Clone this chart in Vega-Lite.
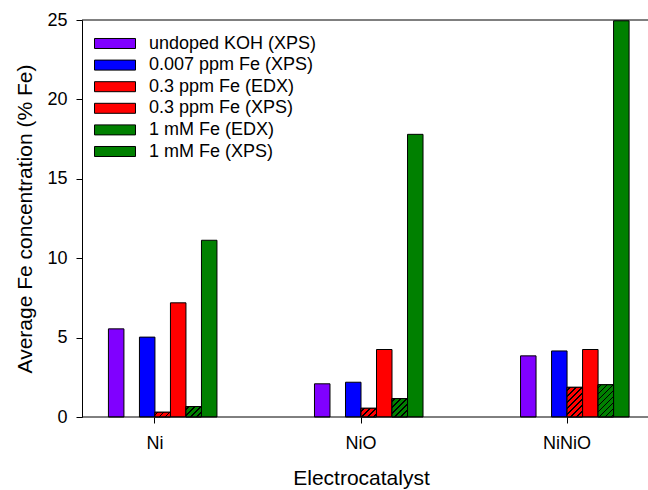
{
  "$schema": "https://vega.github.io/schema/vega-lite/v6.json",
  "autosize": {"type": "none"},
  "padding": {"left": 82, "top": 20, "right": 0, "bottom": 73},
  "width": 566,
  "height": 397,
  "config": {
    "view": {"stroke": null},
    "font": "Liberation Sans",
    "axis": {
      "labelFont": "Liberation Sans",
      "titleFont": "Liberation Sans",
      "labelColor": "#000",
      "titleColor": "#000",
      "tickColor": "#000",
      "domainColor": "#000",
      "titleFontWeight": "normal",
      "grid": false,
      "tickSize": 6,
      "labelFontSize": 18,
      "titleFontSize": 21
    }
  },
  "data": {
    "values": [
      {"cat": "Ni", "series": "undoped KOH (XPS)", "value": 5.55},
      {"cat": "Ni", "series": "0.007 ppm Fe (XPS)", "value": 5.03},
      {"cat": "Ni", "series": "0.3 ppm Fe (EDX)", "value": 0.3},
      {"cat": "Ni", "series": "0.3 ppm Fe (XPS)", "value": 7.19},
      {"cat": "Ni", "series": "1 mM Fe (EDX)", "value": 0.66},
      {"cat": "Ni", "series": "1 mM Fe (XPS)", "value": 11.13},
      {"cat": "NiO", "series": "undoped KOH (XPS)", "value": 2.09},
      {"cat": "NiO", "series": "0.007 ppm Fe (XPS)", "value": 2.19},
      {"cat": "NiO", "series": "0.3 ppm Fe (EDX)", "value": 0.55},
      {"cat": "NiO", "series": "0.3 ppm Fe (XPS)", "value": 4.25},
      {"cat": "NiO", "series": "1 mM Fe (EDX)", "value": 1.16},
      {"cat": "NiO", "series": "1 mM Fe (XPS)", "value": 17.8},
      {"cat": "NiNiO", "series": "undoped KOH (XPS)", "value": 3.85},
      {"cat": "NiNiO", "series": "0.007 ppm Fe (XPS)", "value": 4.16},
      {"cat": "NiNiO", "series": "0.3 ppm Fe (EDX)", "value": 1.87},
      {"cat": "NiNiO", "series": "0.3 ppm Fe (XPS)", "value": 4.25},
      {"cat": "NiNiO", "series": "1 mM Fe (EDX)", "value": 2.03},
      {"cat": "NiNiO", "series": "1 mM Fe (XPS)", "value": 24.95}
    ]
  },
  "layer": [
    {
      "mark": {"type": "bar", "stroke": "#000", "strokeWidth": 1},
      "encoding": {
        "x": {"field": "cat", "type": "nominal", "sort": ["Ni", "NiO", "NiNiO"],
          "scale": {"range": [0, 558], "paddingInner": 0.398, "paddingOuter": 0.053},
          "axis": {"title": "Electrocatalyst", "labelAngle": 0, "domain": false, "labelPadding": 11, "titlePadding": 15}},
        "xOffset": {"field": "series", "type": "nominal",
          "scale": {"domain": ["_a", "undoped KOH (XPS)", "_b", "0.007 ppm Fe (XPS)", "0.3 ppm Fe (EDX)", "0.3 ppm Fe (XPS)", "1 mM Fe (EDX)", "1 mM Fe (XPS)"], "paddingInner": 0, "paddingOuter": 0}},
        "y": {"field": "value", "type": "quantitative",
          "scale": {"domain": [0, 25], "nice": false},
          "axis": {"title": "Average Fe concentration (% Fe)", "values": [0, 5, 10, 15, 20, 25], "labelPadding": 9, "titlePadding": 11}},
        "color": {"field": "series", "type": "nominal",
          "scale": {"domain": ["undoped KOH (XPS)", "0.007 ppm Fe (XPS)", "0.3 ppm Fe (EDX)", "0.3 ppm Fe (XPS)", "1 mM Fe (EDX)", "1 mM Fe (XPS)"],
            "range": ["#8000ff", "#0000ff", "#ff0000", "#ff0000", "#008000", "#008000"]},
          "legend": {
            "title": null, "orient": "none", "legendX": 12, "legendY": 14.5,
            "symbolType": "M-1,-0.244H1V0.244H-1Z", "symbolSize": 1681,
            "symbolStrokeColor": "#000", "symbolStrokeWidth": 1, "symbolOpacity": 1,
            "labelFont": "Liberation Sans", "labelFontSize": 18, "labelColor": "#000", "labelLimit": 400,
            "labelOffset": 13, "clipHeight": 18, "rowPadding": 3.6, "padding": 0
          }}
      }
    },
    {
      "transform": [{"filter": "indexof(datum.series, 'EDX') >= 0"}],
      "mark": {"type": "bar", "stroke": "#000", "strokeWidth": 1},
      "encoding": {
        "x": {"field": "cat", "type": "nominal", "sort": ["Ni", "NiO", "NiNiO"]},
        "xOffset": {"field": "series", "type": "nominal"},
        "y": {"field": "value", "type": "quantitative"},
        "fill": {
          "condition": [
            {"test": "datum.cat === 'Ni' && datum.series === '0.3 ppm Fe (EDX)'", "value": {"gradient": "linear", "x1": 0, "y1": 0, "x2": 1.195, "y2": 0.37, "stops": [
              {"offset": 0, "color": "#ff0000"}, {"offset": 0.108, "color": "#ff0000"}, {"offset": 0.108, "color": "#000"}, {"offset": 0.188, "color": "#000"}, {"offset": 0.188, "color": "#ff0000"},
              {"offset": 0.403, "color": "#ff0000"}, {"offset": 0.403, "color": "#000"}, {"offset": 0.483, "color": "#000"}, {"offset": 0.483, "color": "#ff0000"},
              {"offset": 0.699, "color": "#ff0000"}, {"offset": 0.699, "color": "#000"}, {"offset": 0.779, "color": "#000"}, {"offset": 0.779, "color": "#ff0000"},
              {"offset": 1, "color": "#ff0000"}]}},
            {"test": "datum.cat === 'Ni' && datum.series === '1 mM Fe (EDX)'", "value": {"gradient": "linear", "x1": 0, "y1": 0, "x2": 1.149, "y2": 0.778, "stops": [
              {"offset": 0, "color": "#008000"}, {"offset": 0.084, "color": "#008000"}, {"offset": 0.084, "color": "#000"}, {"offset": 0.146, "color": "#000"}, {"offset": 0.146, "color": "#008000"},
              {"offset": 0.315, "color": "#008000"}, {"offset": 0.315, "color": "#000"}, {"offset": 0.377, "color": "#000"}, {"offset": 0.377, "color": "#008000"},
              {"offset": 0.546, "color": "#008000"}, {"offset": 0.546, "color": "#000"}, {"offset": 0.608, "color": "#000"}, {"offset": 0.608, "color": "#008000"},
              {"offset": 0.777, "color": "#008000"}, {"offset": 0.777, "color": "#000"}, {"offset": 0.839, "color": "#000"}, {"offset": 0.839, "color": "#008000"},
              {"offset": 1, "color": "#008000"}]}},
            {"test": "datum.cat === 'NiO' && datum.series === '0.3 ppm Fe (EDX)'", "value": {"gradient": "linear", "x1": 0, "y1": 0, "x2": 1.187, "y2": 0.666, "stops": [
              {"offset": 0, "color": "#ff0000"}, {"offset": 0.091, "color": "#ff0000"}, {"offset": 0.091, "color": "#000"}, {"offset": 0.157, "color": "#000"}, {"offset": 0.157, "color": "#ff0000"},
              {"offset": 0.339, "color": "#ff0000"}, {"offset": 0.339, "color": "#000"}, {"offset": 0.405, "color": "#000"}, {"offset": 0.405, "color": "#ff0000"},
              {"offset": 0.587, "color": "#ff0000"}, {"offset": 0.587, "color": "#000"}, {"offset": 0.653, "color": "#000"}, {"offset": 0.653, "color": "#ff0000"},
              {"offset": 0.835, "color": "#ff0000"}, {"offset": 0.835, "color": "#000"}, {"offset": 0.901, "color": "#000"}, {"offset": 0.901, "color": "#ff0000"},
              {"offset": 1, "color": "#ff0000"}]}},
            {"test": "datum.cat === 'NiO' && datum.series === '1 mM Fe (EDX)'", "value": {"gradient": "linear", "x1": 0, "y1": 0, "x2": 0.908, "y2": 1.078, "stops": [
              {"offset": 0, "color": "#008000"}, {"offset": 0.064, "color": "#008000"}, {"offset": 0.064, "color": "#000"}, {"offset": 0.112, "color": "#000"}, {"offset": 0.112, "color": "#008000"},
              {"offset": 0.241, "color": "#008000"}, {"offset": 0.241, "color": "#000"}, {"offset": 0.289, "color": "#000"}, {"offset": 0.289, "color": "#008000"},
              {"offset": 0.418, "color": "#008000"}, {"offset": 0.418, "color": "#000"}, {"offset": 0.466, "color": "#000"}, {"offset": 0.466, "color": "#008000"},
              {"offset": 0.595, "color": "#008000"}, {"offset": 0.595, "color": "#000"}, {"offset": 0.643, "color": "#000"}, {"offset": 0.643, "color": "#008000"},
              {"offset": 0.772, "color": "#008000"}, {"offset": 0.772, "color": "#000"}, {"offset": 0.82, "color": "#000"}, {"offset": 0.82, "color": "#008000"},
              {"offset": 0.949, "color": "#008000"}, {"offset": 0.949, "color": "#000"}, {"offset": 0.997, "color": "#000"}, {"offset": 0.997, "color": "#008000"},
              {"offset": 1, "color": "#008000"}]}},
            {"test": "datum.cat === 'NiNiO' && datum.series === '0.3 ppm Fe (EDX)'", "value": {"gradient": "linear", "x1": 0, "y1": 0, "x2": 0.63, "y2": 1.195, "stops": [
              {"offset": 0, "color": "#ff0000"}, {"offset": 0.049, "color": "#ff0000"}, {"offset": 0.049, "color": "#000"}, {"offset": 0.085, "color": "#000"}, {"offset": 0.085, "color": "#ff0000"},
              {"offset": 0.182, "color": "#ff0000"}, {"offset": 0.182, "color": "#000"}, {"offset": 0.218, "color": "#000"}, {"offset": 0.218, "color": "#ff0000"},
              {"offset": 0.316, "color": "#ff0000"}, {"offset": 0.316, "color": "#000"}, {"offset": 0.352, "color": "#000"}, {"offset": 0.352, "color": "#ff0000"},
              {"offset": 0.45, "color": "#ff0000"}, {"offset": 0.45, "color": "#000"}, {"offset": 0.486, "color": "#000"}, {"offset": 0.486, "color": "#ff0000"},
              {"offset": 0.583, "color": "#ff0000"}, {"offset": 0.583, "color": "#000"}, {"offset": 0.619, "color": "#000"}, {"offset": 0.619, "color": "#ff0000"},
              {"offset": 0.717, "color": "#ff0000"}, {"offset": 0.717, "color": "#000"}, {"offset": 0.753, "color": "#000"}, {"offset": 0.753, "color": "#ff0000"},
              {"offset": 0.851, "color": "#ff0000"}, {"offset": 0.851, "color": "#000"}, {"offset": 0.887, "color": "#000"}, {"offset": 0.887, "color": "#ff0000"},
              {"offset": 1, "color": "#ff0000"}]}}
          ],
          "value": {"gradient": "linear", "x1": 0, "y1": 0, "x2": 0.579, "y2": 1.203, "stops": [
            {"offset": 0, "color": "#008000"}, {"offset": 0.046, "color": "#008000"}, {"offset": 0.046, "color": "#000"}, {"offset": 0.08, "color": "#000"}, {"offset": 0.08, "color": "#008000"},
            {"offset": 0.172, "color": "#008000"}, {"offset": 0.172, "color": "#000"}, {"offset": 0.206, "color": "#000"}, {"offset": 0.206, "color": "#008000"},
            {"offset": 0.297, "color": "#008000"}, {"offset": 0.297, "color": "#000"}, {"offset": 0.331, "color": "#000"}, {"offset": 0.331, "color": "#008000"},
            {"offset": 0.423, "color": "#008000"}, {"offset": 0.423, "color": "#000"}, {"offset": 0.457, "color": "#000"}, {"offset": 0.457, "color": "#008000"},
            {"offset": 0.549, "color": "#008000"}, {"offset": 0.549, "color": "#000"}, {"offset": 0.583, "color": "#000"}, {"offset": 0.583, "color": "#008000"},
            {"offset": 0.675, "color": "#008000"}, {"offset": 0.675, "color": "#000"}, {"offset": 0.709, "color": "#000"}, {"offset": 0.709, "color": "#008000"},
            {"offset": 0.801, "color": "#008000"}, {"offset": 0.801, "color": "#000"}, {"offset": 0.835, "color": "#000"}, {"offset": 0.835, "color": "#008000"},
            {"offset": 0.926, "color": "#008000"}, {"offset": 0.926, "color": "#000"}, {"offset": 0.96, "color": "#000"}, {"offset": 0.96, "color": "#008000"},
            {"offset": 1, "color": "#008000"}]}
        }
      }
    },
    {
      "data": {"values": [{}]},
      "mark": {"type": "rule", "stroke": "#000", "strokeWidth": 1},
      "encoding": {"y": {"datum": 0, "type": "quantitative"}}
    },
    {
      "data": {"values": [{}]},
      "mark": {"type": "rule", "stroke": "#000", "strokeWidth": 1},
      "encoding": {"y": {"datum": 25, "type": "quantitative"}}
    }
  ]
}
